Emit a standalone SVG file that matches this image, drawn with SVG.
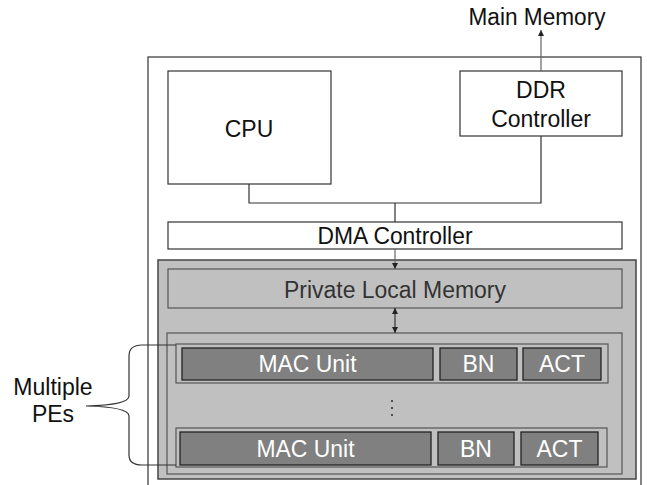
<svg xmlns="http://www.w3.org/2000/svg" width="647" height="485" viewBox="0 0 647 485">
<defs>
<marker id="ah" viewBox="0 0 10 10" refX="10" refY="5" markerWidth="6" markerHeight="7" markerUnits="userSpaceOnUse" orient="auto-start-reverse">
<path d="M0,0 L10,5 L0,10 z" fill="#222"/>
</marker>
<style>
text{font-family:"Liberation Sans",Arial,sans-serif;font-size:23px;text-anchor:middle;fill:#111}
.wbox{fill:#fff;stroke:#333;stroke-width:1.2}
.gbox{fill:#c0c0c0;stroke:#444;stroke-width:1.5}
.frame{fill:#c0c0c0;stroke:#555;stroke-width:1.2}
.unit{fill:#808080;stroke:#222;stroke-width:1.3}
.unit-t{fill:#fff}
.wire{fill:none;stroke:#333;stroke-width:1.2}
.gwire{fill:none;stroke:#666;stroke-width:1.2}
</style>
</defs>
<rect width="647" height="485" fill="#fff"/>
<g id="soc"><rect class="wbox" x="148" y="57" width="493" height="450"/></g>
<g id="main-memory"><text x="537" y="25" textLength="137" lengthAdjust="spacingAndGlyphs">Main Memory</text></g>
<g id="cpu"><rect class="wbox" x="168" y="71" width="163" height="113"/><text x="249" y="137">CPU</text></g>
<g id="ddr"><rect class="wbox" x="460" y="71" width="162" height="65"/><text x="541" y="98">DDR</text><text x="541" y="127">Controller</text></g>
<g id="dma"><rect class="wbox" x="168" y="222" width="454" height="27"/><text x="395" y="244" textLength="155" lengthAdjust="spacingAndGlyphs">DMA Controller</text></g>
<g id="accel"><rect class="gbox" x="158" y="260" width="478" height="219"/></g>
<g id="plm"><rect class="frame" x="168" y="269" width="454" height="39"/><text x="395" y="298" style="fill:#333" textLength="222" lengthAdjust="spacingAndGlyphs">Private Local Memory</text></g>
<g id="pe-array"><rect class="frame" x="167" y="333" width="455" height="141"/>
<circle cx="392" cy="401" r="1.1" fill="#333"/><circle cx="392" cy="408" r="1.1" fill="#333"/><circle cx="392" cy="415" r="1.1" fill="#333"/></g>
<g id="pe1"><rect class="frame" x="176" y="344" width="432" height="39"/>
<rect class="unit" x="182" y="348" width="251" height="32"/><text class="unit-t" x="307.5" y="372" textLength="98" lengthAdjust="spacingAndGlyphs">MAC Unit</text>
<rect class="unit" x="440" y="348" width="77" height="32"/><text class="unit-t" x="478.5" y="372">BN</text>
<rect class="unit" x="523" y="348" width="78" height="32"/><text class="unit-t" x="562" y="372">ACT</text></g>
<g id="pe2"><rect class="frame" x="176" y="428" width="431" height="39"/>
<rect class="unit" x="180" y="432" width="251" height="33"/><text class="unit-t" x="305.5" y="457" textLength="98" lengthAdjust="spacingAndGlyphs">MAC Unit</text>
<rect class="unit" x="438" y="432" width="76" height="33"/><text class="unit-t" x="476" y="457">BN</text>
<rect class="unit" x="521" y="432" width="77" height="33"/><text class="unit-t" x="559.5" y="457">ACT</text></g>
<g id="multiple-pes-label"><text x="53" y="395">Multiple</text><text x="53" y="422">PEs</text></g>
<g id="connectors">
<path class="gwire" d="M541 71 V30" marker-end="url(#ah)"/>
<path class="wire" d="M249 184 V203 H541 V136 M395 203 V222"/>
<path class="gwire" d="M395 249 V269" marker-end="url(#ah)"/>
<path class="wire" d="M395 308 V333" marker-start="url(#ah)" marker-end="url(#ah)"/>
<path class="wire" d="M176 345 H142 Q129 345 129 356 V396 Q129 405 86 406 Q129 407 129 416 V455 Q129 465 142 465 H176"/>
</g>
</svg>
